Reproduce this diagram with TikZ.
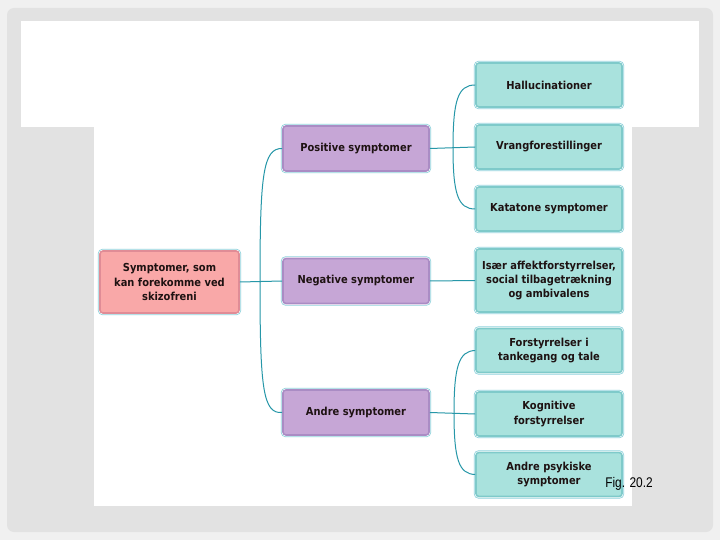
\documentclass[tikz,border=0pt]{standalone}
\usepackage{fontspec}
\setmainfont{DejaVu Sans}[FakeStretch=0.9]
\newfontfamily\figfont{Liberation Sans}[FakeStretch=0.85]
\definecolor{pagebg}{HTML}{F0F0F0}
\definecolor{slidebg}{HTML}{E2E2E2}
\definecolor{pinkfill}{HTML}{F9A8A8}
\definecolor{pinkedge}{HTML}{E08C96}
\definecolor{purpfill}{HTML}{C6A6D6}
\definecolor{purpedge}{HTML}{AA8CC4}
\definecolor{tealfill}{HTML}{A9E2DD}
\definecolor{tealedge}{HTML}{7FCACA}
\definecolor{rimcol}{HTML}{8FD2DC}
\definecolor{conncol}{HTML}{2697A8}
\definecolor{txtcol}{HTML}{1E1212}
\tikzset{
  boxbase/.style={rounded corners=3pt, align=center, inner sep=2pt,
    font=\bfseries\fontsize{11}{14.2}\selectfont, text=txtcol,
    preaction={draw=rimcol, line width=4.4pt},
    preaction={draw=white, line width=2.8pt},
    line width=1.6pt},
  rootbox/.style={boxbase, fill=pinkfill, draw=pinkedge, minimum width=139pt, minimum height=62pt},
  midbox/.style={boxbase, fill=purpfill, draw=purpedge, minimum width=146pt, minimum height=45pt},
  leafbox/.style={boxbase, fill=tealfill, draw=tealedge, minimum width=146pt, minimum height=44pt},
  conn/.style={draw=conncol, line width=1pt},
}
\begin{document}
\begin{tikzpicture}[x=1pt,y=-1pt]
\useasboundingbox (0,0) rectangle (720,540);
\fill[pagebg] (0,0) rectangle (720,540);
\fill[slidebg, rounded corners=7pt] (7,8) rectangle (713,532);
\fill[white] (21,21) rectangle (699,127);
\fill[white] (94,126) rectangle (632,506);

\node[rootbox] (root) at (169.5,282) {Symptomer, som\\kan forekomme ved\\skizofreni};

\node[midbox] (pos) at (356,148.5) {Positive symptomer};
\node[midbox] (neg) at (356,281) {Negative symptomer};
\node[midbox] (oth) at (356,412.5) {Andre symptomer};

\node[leafbox] (hal) at (549,85) {Hallucinationer};
\node[leafbox] (vra) at (549,147) {Vrangforestillinger};
\node[leafbox] (kat) at (549,209) {Katatone symptomer};
\node[leafbox, minimum height=63pt] (aff) at (549,280.5) {Især affektforstyrrelser,\\social tilbagetrækning\\og ambivalens};
\node[leafbox] (tan) at (549,350.5) {Forstyrrelser i\\tankegang og tale};
\node[leafbox] (kog) at (549,414) {Kognitive\\forstyrrelser};
\node[leafbox] (aps) at (549,474.5) {Andre psykiske\\symptomer};

\coordinate (jl) at (260,282);
\coordinate (jr1) at (453,148);
\coordinate (jr3) at (454,413);

\draw[conn] (root.east) -- (neg.west);
\draw[conn] (jl) .. controls (260,175) and (263,148) .. (pos.west);
\draw[conn] (jl) .. controls (260,389) and (263,414) .. (oth.west);

\draw[conn] (pos.east) -- (vra.west);
\draw[conn] (jr1) .. controls (453,100) and (458,85) .. (hal.west);
\draw[conn] (jr1) .. controls (453,194) and (458,209) .. (kat.west);

\draw[conn] (neg.east) -- (aff.west);

\draw[conn] (oth.east) -- (kog.west);
\draw[conn] (jr3) .. controls (454,366) and (459,351) .. (tan.west);
\draw[conn] (jr3) .. controls (454,460) and (459,474) .. (aps.west);

\node[font=\figfont\fontsize{14}{16}\selectfont, text=black] (fig) at (629,484) {Fig. 20.2};
\end{tikzpicture}
\end{document}
